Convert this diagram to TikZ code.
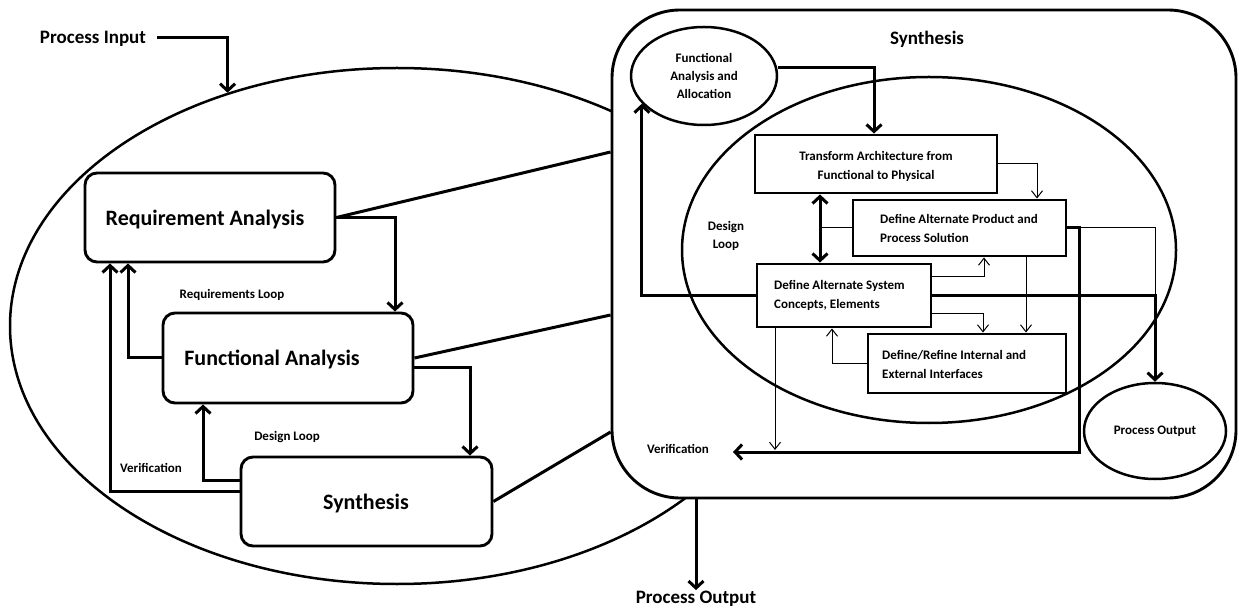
\documentclass[tikz,border=0pt]{standalone}
\usepackage{fontspec}
\setmainfont{Carlito}
\usetikzlibrary{shapes.geometric,arrows.meta,calc}
\newcommand\myfbig{\fontsize{22}{26}\selectfont}
\newcommand\myfmid{\fontsize{19}{22}\selectfont}
\newcommand\myfsmall{\fontsize{13}{19}\selectfont}
\begin{document}
\begin{tikzpicture}[x=1pt,y=-1pt,font=\bfseries,
  thk/.style={line width=3pt},
  thn/.style={line width=1pt},
  tarr/.style={-{Straight Barb[length=7pt,width=15pt]}},
  narr/.style={-{Straight Barb[length=7pt,width=11pt]}},
  rbox/.style={draw,line width=2.9pt,rounded corners=12pt,fill=white,inner sep=0pt},
  sbox/.style={draw,line width=2.9pt,fill=white,inner sep=0pt},
  ell/.style={draw,ellipse,line width=2.5pt,inner sep=0pt},
  lbl/.style={inner sep=1pt}]
\useasboundingbox (0,0) rectangle (1239,609);
% big left ellipse
\node[ell,minimum width=774pt,minimum height=516pt] (lell) at (397,326) {};
% right rounded frame
\node[draw,line width=2.9pt,rounded corners=68pt,fill=white,inner sep=0pt,
      minimum width=624pt,minimum height=488pt] (big) at (924,254) {};
% inner design-loop ellipse
\node[ell,minimum width=494pt,minimum height=346pt] (dell) at (929,250) {};

% left boxes
\node[rbox,minimum width=250pt,minimum height=89pt] (req) at (210,217.5) {};
\node[rbox,minimum width=250pt,minimum height=90pt] (fa) at (288,358) {};
\node[rbox,minimum width=251pt,minimum height=89pt] (syn) at (366.5,501.5) {};
\node[lbl,font=\bfseries\myfbig] (reqT) at (205,220) {Requirement Analysis};
\node[lbl,font=\bfseries\myfbig] (faT) at (272,359) {Functional Analysis};
\node[lbl,font=\bfseries\myfbig] (synT) at (366,504) {Synthesis};

% labels left
\node[lbl,font=\bfseries\myfmid] (pin) at (93,39) {Process Input};
\node[lbl,font=\bfseries\myfmid] (pout) at (696,599) {Process Output};
\node[lbl,font=\bfseries\myfsmall] (rloop) at (232,295) {Requirements Loop};
\node[lbl,font=\bfseries\myfsmall] (dloop) at (287,437) {Design Loop};
\node[lbl,font=\bfseries\myfsmall] (verL) at (151,468) {Verification};

% left connectors
\draw[thk,tarr] ([xshift=10pt,yshift=1pt]pin.east) -| (lell.126);
\draw[thk,tarr] (req.east) -| ([xshift=107pt]fa.north);
\draw[thk,tarr] ([yshift=-9pt]fa.east) -| ([xshift=103.5pt]syn.north);
\draw[thk,tarr] (fa.west) -| ([xshift=-82pt]req.south);
\draw[thk,tarr] ([yshift=21.5pt]syn.west) -| ([xshift=-85pt]fa.south);
\draw[thk,tarr] ([yshift=10.5pt]syn.west) -| ([xshift=-100pt]req.south);
\draw[thk] (req.east) -- ([yshift=102pt]big.west);
\draw[thk] (fa.east) -- ([yshift=-61pt]big.west);
\draw[thk] (syn.east) -- ([yshift=-178pt]big.west);
\draw[thk,tarr] (pout.north |- big.south) -- (pout.north);

% right side nodes
\node[lbl,font=\bfseries\myfmid] (synR) at (927,39) {Synthesis};
\node[ell,fill=white,minimum width=146pt,minimum height=98pt,align=center,
      font=\bfseries\fontsize{13}{18}\selectfont] (fa2) at (704,76)
      {Functional\\Analysis and\\Allocation};
\node[ell,fill=white,minimum width=142pt,minimum height=96pt,
      font=\bfseries\fontsize{13}{18}\selectfont] (po) at (1155,431) {Process Output};
\node[sbox,minimum width=242pt,minimum height=58pt] (tr) at (876,164) {};
\node[sbox,minimum width=213pt,minimum height=56pt] (prod) at (959.5,228) {};
\node[sbox,minimum width=174pt,minimum height=63pt] (sys) at (844,295.5) {};
\node[sbox,minimum width=198pt,minimum height=59pt] (ref) at (967,363.5) {};
\node[lbl,align=center,font=\bfseries\myfsmall] (trT) at (876,166)
      {Transform Architecture from\\Functional to Physical};
\node[lbl,inner sep=0pt,anchor=west,align=left,font=\bfseries\myfsmall] (prodT) at (880,228)
      {Define Alternate Product and\\Process Solution};
\node[lbl,inner sep=0pt,anchor=west,align=left,font=\bfseries\myfsmall] (sysT) at (774,295)
      {Define Alternate System\\Concepts, Elements};
\node[lbl,inner sep=0pt,anchor=west,align=left,font=\bfseries\myfsmall] (refT) at (882,364)
      {Define/Refine Internal and\\External Interfaces};
\node[lbl,align=center,font=\bfseries\fontsize{13}{18}\selectfont] (dlR) at (726,236) {Design\\Loop};
\node[lbl,font=\bfseries\myfsmall] (verR) at (678,449) {Verification};
\coordinate (dl) at (820,228);
\coordinate (vtip) at (733,452);
\coordinate (vdrop) at (775,450);

% right connectors
\draw[thk,tarr] ([yshift=8pt]fa2.east) -| ([xshift=-2pt]tr.north);
\draw[thk,{Straight Barb[length=7pt,width=15pt]}-{Straight Barb[length=7pt,width=15pt]}]
      ([xshift=-56pt]tr.south) -- ([xshift=-24pt]sys.north);
\draw[thn] (prod.west) -- (dl);
\draw[thn,narr] (tr.east) -| ([xshift=77.5pt]prod.north);
\draw[thn,narr] ([yshift=18.5pt]sys.east) -| ([xshift=24.5pt]prod.south);
\draw[thn,narr] ([yshift=-18.5pt]sys.east) -| ([xshift=16pt]ref.north);
\draw[thn,narr] ([xshift=66.5pt]prod.south) -- ([xshift=59pt]ref.north);
\draw[thn,narr] (ref.west) -| ([xshift=-12pt]sys.south);
\draw[thn,narr] ([xshift=-69pt]sys.south) -- (vdrop);
\draw[thn] (prod.east) -| (po.north |- sys.east);
\draw[thk,tarr] (prod.east) -- ++(12,0) |- (vtip);
\draw[thk,tarr] (sys.east) -| (po.north);
\draw[thk,tarr] (sys.west) -| (fa2.204);
\end{tikzpicture}
\end{document}
